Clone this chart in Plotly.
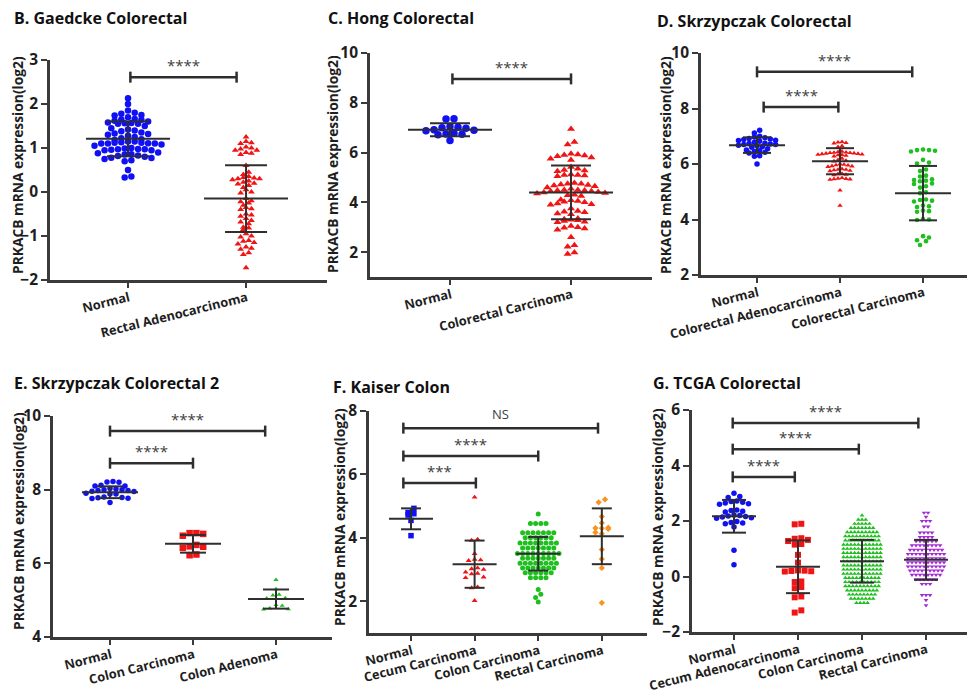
import plotly.graph_objects as go

W, H = 967, 695

# ------------------------------------------------------------------ data
b_categories = ["Normal", "Rectal Adenocarcinoma"]
b_normal = [2.13, 2.0, 1.85, 1.8, 1.78, 1.75, 1.74, 1.7, 1.66, 1.65, 1.64, 1.62, 1.6, 1.58, 1.57,
            1.56, 1.55, 1.55, 1.5, 1.45, 1.42, 1.4, 1.38, 1.35, 1.33, 1.32, 1.3, 1.28, 1.25, 1.22,
            1.2, 1.18, 1.15, 1.15, 1.13, 1.12, 1.12, 1.11, 1.1, 1.1, 1.1, 1.08, 1.05, 1.0, 0.99,
            0.98, 0.97, 0.97, 0.96, 0.95, 0.95, 0.9, 0.88, 0.86, 0.85, 0.83, 0.82, 0.8, 0.78,
            0.77, 0.75, 0.72, 0.7, 0.5, 0.35, 0.33]
b_rectal = [1.25, 1.15, 1.12, 1.1, 1.02, 1.0, 0.98, 0.95, 0.95, 0.9, 0.88, 0.85, 0.6, 0.45, 0.4,
            0.35, 0.33, 0.32, 0.3, 0.3, 0.28, 0.25, 0.22, 0.2, 0.18, 0.15, 0.1, 0.05, 0.0, -0.02,
            -0.15, -0.2, -0.22, -0.25, -0.3, -0.35, -0.38, -0.4, -0.5, -0.52, -0.55, -0.6, -0.65,
            -0.68, -0.72, -0.8, -0.82, -0.85, -0.95, -1.0, -1.02, -1.1, -1.12, -1.15, -1.18,
            -1.25, -1.28, -1.3, -1.38, -1.42, -1.72]
b_means = [1.21, -0.15]
b_sds = [0.395, 0.76]

c_categories = ["Normal", "Colorectal Carcinoma"]
c_normal = [7.36, 7.35, 7.05, 7.02, 7.0, 6.98, 6.92, 6.9, 6.88, 6.78, 6.75, 6.74, 6.72, 6.48]
c_carcinoma = [6.95, 6.42, 6.32, 5.95, 5.92, 5.9, 5.88, 5.85, 5.8, 5.75, 5.7, 5.42, 5.35, 5.3, 5.28,
               5.25, 5.12, 5.1, 5.1, 5.08, 5.05, 4.78, 4.75, 4.75, 4.72, 4.7, 4.68, 4.65, 4.6, 4.55,
               4.5, 4.5, 4.48, 4.48, 4.45, 4.45, 4.42, 4.4, 4.38, 4.35, 4.3, 4.28, 4.25, 4.1, 4.08,
               4.05, 4.02, 4.0, 3.95, 3.92, 3.9, 3.75, 3.65, 3.62, 3.6, 3.55, 3.52, 3.35, 3.32, 3.3,
               3.28, 3.25, 3.22, 3.2, 3.05, 3.0, 2.98, 2.95, 2.9, 2.6, 2.28, 2.22, 1.98, 1.92]
c_means = [6.92, 4.4]
c_sds = [0.26, 1.08]

d_categories = ["Normal", "Colorectal Adenocarcinoma", "Colorectal Carcinoma"]
d_normal = [7.22, 7.12, 7.0, 6.97, 6.95, 6.92, 6.9, 6.88, 6.86, 6.85, 6.82, 6.78, 6.75, 6.74, 6.72,
            6.7, 6.7, 6.68, 6.65, 6.62, 6.6, 6.55, 6.5, 6.48, 6.45, 6.42, 6.4, 6.3, 6.28, 6.0]
d_adeno = [6.8, 6.78, 6.76, 6.75, 6.65, 6.62, 6.45, 6.44, 6.42, 6.41, 6.4, 6.4, 6.39, 6.38, 6.37,
           6.36, 6.35, 6.34, 6.33, 6.32, 6.3, 6.28, 6.2, 6.15, 6.12, 6.1, 6.0, 5.98, 5.96, 5.95,
           5.93, 5.92, 5.9, 5.82, 5.8, 5.8, 5.78, 5.76, 5.75, 5.65, 5.64, 5.62, 5.6, 5.5, 5.48,
           5.47, 5.46, 5.45, 5.44, 5.05, 4.5]
d_carcinoma = [6.52, 6.5, 6.5, 6.48, 6.45, 6.15, 6.05, 6.02, 5.8, 5.75, 5.58, 5.55, 5.45, 5.42, 5.4,
               5.38, 5.3, 5.28, 5.2, 5.15, 4.98, 4.95, 4.72, 4.7, 4.68, 4.65, 4.5, 4.48, 4.45, 4.32,
               4.3, 4.28, 4.02, 4.0, 3.98, 3.4, 3.35, 3.25, 3.22, 3.08]
d_means = [6.68, 6.1, 4.95]
d_sds = [0.28, 0.47, 0.98]

e_categories = ["Normal", "Colon Carcinoma", "Colon Adenoma"]
e_normal = [8.22, 8.21, 8.2, 8.12, 8.1, 8.1, 8.03, 8.02, 8.0, 8.0, 7.98, 7.98, 7.96, 7.95, 7.9,
            7.88, 7.88, 7.8, 7.79, 7.78, 7.77, 7.76, 7.65]
e_carcinoma = [6.82, 6.82, 6.8, 6.75, 6.5, 6.46, 6.45, 6.42, 6.24, 6.22]
e_adenoma = [5.55, 5.3, 5.15, 5.13, 5.06, 5.05, 4.87, 4.85, 4.78, 4.76, 4.75]
e_means = [7.93, 6.53, 5.03]
e_sds = [0.16, 0.24, 0.26]

f_categories = ["Normal", "Cecum Carcinoma", "Colon Carcinoma", "Rectal Carcinoma"]
f_normal = [4.93, 4.8, 4.76, 4.72, 4.55, 4.07]
f_cecum = [5.28, 3.95, 3.92, 3.5, 3.32, 3.3, 3.28, 3.05, 3.02, 3.0, 2.92, 2.88, 2.86, 2.76, 2.74,
           2.45, 2.42, 2.02]
# (value, number of dots in that row) read row by row from the swarm
f_colon_rows = [(4.75, 1), (4.45, 4), (4.16, 7), (4.0, 6), (3.84, 8), (3.68, 7),
                (3.51, 9), (3.36, 7), (3.2, 8), (3.05, 7), (2.9, 6), (2.74, 4),
                (2.37, 1), (2.22, 1), (2.12, 1), (1.98, 1)]
f_rectal = [5.21, 5.12, 4.67, 4.47, 4.32, 4.31, 4.3, 4.28, 4.17, 4.13, 3.63, 3.33, 3.05, 1.95]
f_means = [4.6, 3.17, 3.5, 4.05]
f_sds = [0.33, 0.745, 0.53, 0.88]

g_categories = ["Normal", "Cecum Adenocarcinoma", "Colon Carcinoma", "Rectal Carcinoma"]
g_normal = [3.0, 2.88, 2.85, 2.72, 2.7, 2.68, 2.65, 2.62, 2.6, 2.4, 2.38, 2.35, 2.32, 2.22, 2.2,
            2.18, 2.16, 2.14, 2.12, 2.1, 1.98, 1.95, 1.93, 1.9, 1.78, 0.95, 0.42]
g_cecum = [1.9, 1.88, 1.38, 1.36, 1.32, 1.28, 1.17, 1.15, 0.78, 0.5, 0.22, 0.21, 0.2, 0.19, 0.18,
           -0.18, -0.2, -0.38, -0.42, -0.72, -0.75, -1.22, -1.3]
g_colon_rows = [(2.2, 1), (2.05, 3), (1.9, 5), (1.75, 7), (1.6, 9), (1.45, 10), (1.3, 10),
                (1.15, 11), (1.0, 11), (0.85, 11), (0.7, 11), (0.55, 11), (0.4, 11), (0.25, 11),
                (0.1, 11), (-0.05, 10), (-0.2, 10), (-0.35, 10), (-0.5, 9), (-0.65, 8),
                (-0.8, 7), (-0.95, 4)]
g_rectal_rows = [(2.3, 2), (2.15, 1), (2.0, 3), (1.8, 2), (1.58, 4), (1.42, 4), (1.27, 6),
                 (1.12, 8), (0.96, 9), (0.81, 10), (0.66, 10), (0.51, 10), (0.36, 10), (0.21, 9),
                 (0.06, 8), (-0.1, 6), (-0.27, 3), (-0.67, 3), (-0.85, 1), (-1.04, 1)]
g_means = [2.17, 0.35, 0.55, 0.6]
g_sds = [0.59, 0.95, 0.77, 0.72]

# significance brackets: (from category, to category, y value, label)
b_brackets = [(0.02, 0.92, 2.61, "****")]
c_brackets = [(0.02, 1.0, 8.96, "****")]
d_brackets = [(0.0, 1.87, 9.32, "****"), (0.08, 0.98, 8.05, "****")]
e_brackets = [(0.0, 1.87, 9.59, "****"), (0.0, 1.0, 8.72, "****")]
f_brackets = [(-0.12, 2.94, 7.46, "NS"), (-0.12, 2.0, 6.58, "****"), (-0.12, 1.02, 5.73, "***")]
g_brackets = [(-0.02, 2.88, 5.53, "****"), (-0.02, 1.95, 4.59, "****"), (-0.02, 0.95, 3.59, "****")]


def expand(rows):
    out = []
    for v, n in rows:
        out += [v] * n
    return out


# ------------------------------------------------------------------ style
BLUE, RED, GREEN, ORANGE, PURPLE = "#1010f5", "#f01414", "#1fbf1f", "#f7931e", "#a32bd6"
AX = "#3a3a3a"
FONT = "Open Sans"

panels = [
    dict(title="B. Gaedcke Colorectal", tpos=(13, 18), ypos=(18, 165), dom=(50, 327, 60, 280),
         xr=(-0.661, 1.686), yr=(-2, 3), yt=[-2, -1, 0, 1, 2, 3], cats=b_categories,
         groups=[b_normal, b_rectal], means=b_means, sds=b_sds, colors=[BLUE, RED],
         symbols=["circle", "triangle-up"], sizes=[6.5, 6], sp=[6.7, 5.4],
         mhw=42, chw=21, br=b_brackets),
    dict(title="C. Hong Colorectal", tpos=(327, 18), ypos=(333, 164), dom=(370, 652, 53, 277),
         xr=(-0.661, 1.669), yr=(1, 10), yt=[2, 4, 6, 8, 10], cats=c_categories,
         groups=[c_normal, c_carcinoma], means=c_means, sds=c_sds, colors=[BLUE, RED],
         symbols=["circle", "triangle-up"], sizes=[7.5, 7], sp=[8, 6.8],
         mhw=42, chw=20, br=c_brackets),
    dict(title="D. Skrzypczak Colorectal", tpos=(656, 21), ypos=(666, 165), dom=(701, 967, 53, 275),
         xr=(-0.675, 2.53), yr=(2, 10), yt=[2, 4, 6, 8, 10], cats=d_categories,
         groups=[d_normal, d_adeno, d_carcinoma], means=d_means, sds=d_sds,
         colors=[BLUE, RED, GREEN], symbols=["circle", "triangle-up", "circle"],
         sizes=[5.5, 4.8, 4.6], sp=[5.3, 4.0, 6.0], mhw=28, chw=14, br=d_brackets),
    dict(title="E. Skrzypczak Colorectal 2", tpos=(13, 383), ypos=(18, 521), dom=(53, 332, 416, 637),
         xr=(-0.687, 2.675), yr=(4, 10), yt=[4, 6, 8, 10], cats=e_categories,
         groups=[e_normal, e_carcinoma, e_adenoma], means=e_means, sds=e_sds,
         colors=[BLUE, RED, GREEN], symbols=["circle", "square", "triangle-up"],
         sizes=[5.5, 6.5, 4.6], sp=[6, 6.8, 6.2], mhw=28, chw=13, br=e_brackets),
    dict(title="F. Kaiser Colon", tpos=(332, 387), ypos=(339, 517), dom=(369, 647, 411, 633),
         xr=(-0.66, 3.71), yr=(1, 8), yt=[2, 4, 6, 8], cats=f_categories,
         groups=[f_normal, f_cecum, expand(f_colon_rows), f_rectal], means=f_means, sds=f_sds,
         colors=[BLUE, RED, GREEN, ORANGE], symbols=["square", "triangle-up", "circle", "diamond"],
         sizes=[5.5, 5.2, 5, 4.8], sp=[5.8, 6, 5.2, 6.4], mhw=22, chw=10, br=f_brackets),
    dict(title="G. TCGA Colorectal", tpos=(652, 383), ypos=(657, 517), dom=(692, 967, 410, 632),
         xr=(-0.656, 3.64), yr=(-2, 6), yt=[-2, 0, 2, 4, 6], cats=g_categories,
         groups=[g_normal, g_cecum, expand(g_colon_rows), expand(g_rectal_rows)], means=g_means,
         sds=g_sds, colors=[BLUE, RED, GREEN, PURPLE],
         symbols=["circle", "square", "triangle-up", "triangle-down"],
         sizes=[5.5, 6, 4.2, 4.2], sp=[5.8, 6.6, 3.7, 4.0], mhw=22, chw=12, br=g_brackets),
]


def row_offsets(values, ppu, sp):
    """GraphPad-like scatter: values closer than one row height share a row,
    rows are centred on the category with the highest values in the middle."""
    rh = 0.8 * sp
    order = sorted(range(len(values)), key=lambda i: -values[i])
    offs = [0.0] * len(values)
    rows, cur, top = [], [], None
    for i in order:
        y = values[i] * ppu
        if top is None or top - y >= rh - 1e-6:
            if cur:
                rows.append(cur)
            cur, top = [i], y
        else:
            cur.append(i)
    if cur:
        rows.append(cur)
    for r in rows:
        n = len(r)
        slots = sorted([(k - (n - 1) / 2.0) * sp for k in range(n)], key=lambda s: (abs(s), -s))
        for i, s in zip(r, slots):
            offs[i] = s
    return offs


fig = go.Figure()
layout = dict(width=W, height=H, margin=dict(l=0, r=0, t=0, b=0), showlegend=False,
              plot_bgcolor="white", paper_bgcolor="white")
annotations = []


def fx(px):
    return px / W


def fy(py):
    return 1 - py / H


for n, p in enumerate(panels, start=1):
    xa = "x" if n == 1 else f"x{n}"
    ya = "y" if n == 1 else f"y{n}"
    x0, x1, y0, y1 = p["dom"]
    ppc = (x1 - x0) / (p["xr"][1] - p["xr"][0])
    ppu = (y1 - y0) / (p["yr"][1] - p["yr"][0])

    # dots
    for c, vals in enumerate(p["groups"]):
        offs = row_offsets(vals, ppu, p["sp"][c])
        xs = [c + o / ppc for o in offs]
        fig.add_trace(go.Scatter(
            x=xs, y=vals, mode="markers", xaxis=xa, yaxis=ya, hoverinfo="skip",
            marker=dict(symbol=p["symbols"][c], size=p["sizes"][c], color=p["colors"][c],
                        line=dict(width=0))))

    # mean +/- SD
    lx, ly = [], []
    mh, ch = p["mhw"] / ppc, p["chw"] / ppc
    for c, (m, s) in enumerate(zip(p["means"], p["sds"])):
        lx += [c - mh, c + mh, None, c, c, None, c - ch, c + ch, None, c - ch, c + ch, None]
        ly += [m, m, None, m - s, m + s, None, m + s, m + s, None, m - s, m - s, None]
    fig.add_trace(go.Scatter(x=lx, y=ly, mode="lines", xaxis=xa, yaxis=ya, hoverinfo="skip",
                             line=dict(color="#2e2e2e", width=2)))

    # significance brackets
    bx, by = [], []
    tk = 5.5 / ppu
    for a, b, yv, lab in p["br"]:
        bx += [a, b, None, a, a, None, b, b, None]
        by += [yv, yv, None, yv - tk, yv + tk, None, yv - tk, yv + tk, None]
        annotations.append(dict(x=(a + b) / 2, y=yv, xref=xa, yref=ya, text=lab, showarrow=False,
                                xanchor="center", yanchor="bottom", yshift=0 if lab != "NS" else 3,
                                font=dict(family=FONT, size=15 if lab != "NS" else 13,
                                          color="#404040")))
    fig.add_trace(go.Scatter(x=bx, y=by, mode="lines", xaxis=xa, yaxis=ya, hoverinfo="skip",
                             line=dict(color="#2e2e2e", width=2.5)))

    axis_common = dict(showline=True, linewidth=2.6, linecolor=AX, ticks="outside",
                       tickwidth=2, tickcolor=AX, showgrid=False, zeroline=False,
                       fixedrange=True, automargin=False)
    layout["xaxis" if n == 1 else f"xaxis{n}"] = dict(
        axis_common, domain=[fx(x0), fx(x1)], range=list(p["xr"]), anchor=ya, ticklen=5,
        tickvals=list(range(len(p["cats"]))), ticktext=p["cats"], tickangle=-14,
        ticklabelstandoff=-2, ticklabelshift=1,
        tickfont=dict(family=FONT, size=12.8, color="#1e1e1e", weight="bold"))
    layout["yaxis" if n == 1 else f"yaxis{n}"] = dict(
        axis_common, domain=[fy(y1), fy(y0)], range=list(p["yr"]), anchor=xa, ticklen=6,
        tickvals=p["yt"], tickfont=dict(family=FONT, size=15.5, color="#1e1e1e", weight="bold"))

    annotations.append(dict(x=fx(p["tpos"][0] - 1), y=fy(p["tpos"][1]), xref="paper", yref="paper",
                            text="<b>" + p["title"] + "</b>", showarrow=False, xanchor="left",
                            yanchor="middle", font=dict(family=FONT, size=16, color="#111")))
    annotations.append(dict(x=fx(p["ypos"][0]), y=fy(p["ypos"][1]), xref="paper", yref="paper",
                            text="<b>PRKACB mRNA expression(log2)</b>", textangle=-90,
                            showarrow=False, xanchor="center", yanchor="middle",
                            font=dict(family=FONT, size=13.8, color="#1e1e1e")))

layout["annotations"] = annotations
fig.update_layout(**layout)
fig.write_html("out.html", config={"displayModeBar": False},
               post_script="document.body.style.margin='0';document.body.style.overflow='hidden';")
